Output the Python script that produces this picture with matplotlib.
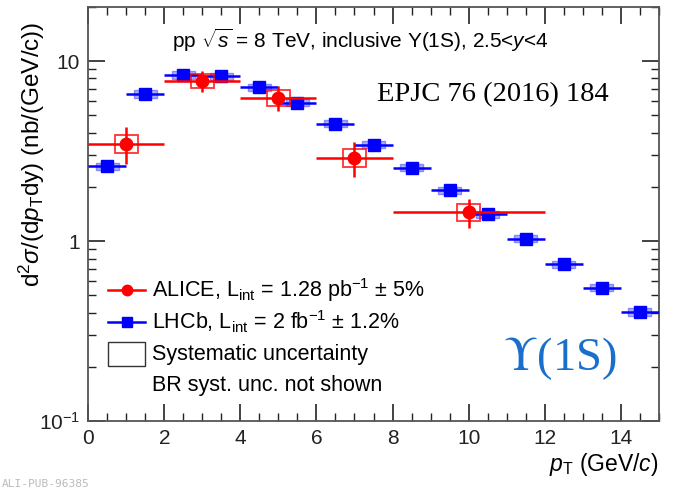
import matplotlib
matplotlib.use('Agg')
import matplotlib.pyplot as plt
from matplotlib.patches import Rectangle
from matplotlib.lines import Line2D
from matplotlib.ticker import FixedLocator, FixedFormatter, LogLocator, NullFormatter, MultipleLocator
import numpy as np

plt.rcParams['font.family'] = ['Liberation Sans', 'DejaVu Sans']
plt.rcParams['mathtext.fontset'] = 'custom'
plt.rcParams['mathtext.rm'] = 'Liberation Sans'
plt.rcParams['mathtext.it'] = 'Liberation Sans:italic'
plt.rcParams['mathtext.bf'] = 'Liberation Sans:bold'

# ALICE, pT bins (GeV/c)
alice_lo = [0, 2, 4, 6, 8]
alice_hi = [2, 4, 6, 8, 12]
alice_y = [3.48, 7.75, 6.25, 2.91, 1.45]
alice_stat = [0.80, 1.05, 1.00, 0.65, 0.27]
alice_sys = [0.38, 0.70, 0.62, 0.32, 0.16]

# LHCb, 1 GeV/c bins
lhcb_lo = [0, 1, 2, 3, 4, 5, 6, 7, 8, 9, 10, 11, 12, 13, 14]
lhcb_y = [2.60, 6.57, 8.37, 8.25, 7.18, 5.86, 4.49, 3.43, 2.56, 1.91,
          1.41, 1.03, 0.746, 0.55, 0.405]
lhcb_stat = [0.06, 0.12, 0.14, 0.14, 0.12, 0.10, 0.08, 0.06, 0.05, 0.04,
             0.03, 0.025, 0.02, 0.015, 0.012]
lhcb_sys = [0.12, 0.30, 0.38, 0.37, 0.32, 0.26, 0.20, 0.15, 0.11, 0.085,
            0.063, 0.046, 0.034, 0.025, 0.019]

fig = plt.figure(figsize=(6.73, 4.88), dpi=100)
ax = fig.add_axes([0.131, 0.137, 0.848, 0.849])

red = '#ff0000'
blue = '#0000ff'

# LHCb systematic boxes
for lo, y, s in zip(lhcb_lo, lhcb_y, lhcb_sys):
    xc = lo + 0.5
    ax.add_patch(Rectangle((xc - 0.3, y - s), 0.6, 2 * s, facecolor='#6a6aff',
                           edgecolor='#4444ff', alpha=0.55, lw=1, zorder=2))
lhcb_x = np.array(lhcb_lo) + 0.5
ax.errorbar(lhcb_x, lhcb_y, xerr=0.5, yerr=lhcb_stat, fmt='s', color=blue,
            ms=8.5, lw=1.8, capsize=0, zorder=3)

# ALICE
alice_x = (np.array(alice_lo) + np.array(alice_hi)) / 2
alice_w = (np.array(alice_hi) - np.array(alice_lo)) / 2
for xc, y, s in zip(alice_x, alice_y, alice_sys):
    ax.add_patch(Rectangle((xc - 0.3, y - s), 0.6, 2 * s, facecolor='none',
                           edgecolor=red, alpha=0.8, lw=1.3, zorder=4))
ax.errorbar(alice_x, alice_y, xerr=alice_w, yerr=alice_stat, fmt='o', color=red,
            ms=9, lw=1.8, capsize=0, zorder=5)

ax.set_yscale('log')
ax.set_xlim(0, 15)
ax.set_ylim(0.1, 20)

ax.xaxis.set_major_locator(MultipleLocator(2))
ax.xaxis.set_minor_locator(MultipleLocator(0.5))
ax.yaxis.set_major_locator(FixedLocator([0.1, 1, 10]))
ax.yaxis.set_major_formatter(FixedFormatter([r'$10^{-1}$', '1', '10']))
ax.yaxis.set_minor_locator(LogLocator(base=10, subs=np.arange(2, 10)))
ax.yaxis.set_minor_formatter(NullFormatter())
ax.tick_params(which='both', direction='in', top=True, right=True, labelsize=15, colors='#222222')
ax.tick_params(which='major', length=12, width=1.2, pad=6)
ax.tick_params(which='minor', length=6, width=1.0)
for sp in ax.spines.values():
    sp.set_color('#555555')
    sp.set_linewidth(1.3)

ax.set_ylabel(r'd$^{2}\sigma$/(d$p_{\rm T}$dy) (nb/(GeV/c))', fontsize=17.5, loc='top')
ax.yaxis.set_label_coords(-0.072, 0.965)
ax.set_xlabel(r'$p_{\rm T}$ (GeV/$c$)', fontsize=16.5, loc='right', labelpad=2)

ax.text(0.476, 0.92, r'pp $\sqrt{s}$ = 8 TeV, inclusive $\Upsilon$(1S), 2.5<$y$<4',
        transform=ax.transAxes, ha='center', va='center', fontsize=15)
ax.text(0.709, 0.787, 'EPJC 76 (2016) 184', transform=ax.transAxes, ha='center',
        va='center', fontsize=20.5, family='Liberation Serif')
ax.text(0.826, 0.15, r'$\Upsilon$(1S)', transform=ax.transAxes, ha='center',
        va='center', fontsize=33.5, color='#1a6fcc', family='Liberation Serif',
        math_fontfamily='stix')

# legend drawn by hand
leg_x0, leg_x1, leg_tx = 0.035, 0.1, 0.112
leg_rows = [0.316, 0.239, 0.162, 0.085]
for yy, c, m in [(leg_rows[0], red, 'o'), (leg_rows[1], blue, 's')]:
    ax.add_line(Line2D([leg_x0, leg_x1], [yy, yy], transform=ax.transAxes, color=c, lw=1.8))
    ax.plot([(leg_x0 + leg_x1) / 2], [yy], marker=m, color=c, ms=7.5, transform=ax.transAxes)
ax.add_patch(Rectangle((leg_x0, leg_rows[2] - 0.03), leg_x1 - leg_x0, 0.06,
                       transform=ax.transAxes, facecolor='none', edgecolor='#333333', lw=1))
leg_size = 15.5
ax.text(leg_tx, leg_rows[0], r'ALICE, L$_{\rm int}$ = 1.28 pb$^{-1}$ $\pm$ 5%',
        transform=ax.transAxes, va='center', fontsize=leg_size)
ax.text(leg_tx, leg_rows[1], r'LHCb, L$_{\rm int}$ = 2 fb$^{-1}$ $\pm$ 1.2%',
        transform=ax.transAxes, va='center', fontsize=leg_size)
ax.text(leg_tx, leg_rows[2], 'Systematic uncertainty', transform=ax.transAxes,
        va='center', fontsize=leg_size)
ax.text(leg_tx, leg_rows[3], 'BR syst. unc. not shown', transform=ax.transAxes,
        va='center', fontsize=leg_size)

fig.text(0.002, 0.002, 'ALI-PUB-96385', fontsize=8, color='#bbbbbb', family='DejaVu Sans Mono')

fig.savefig('out.png', dpi=100)
